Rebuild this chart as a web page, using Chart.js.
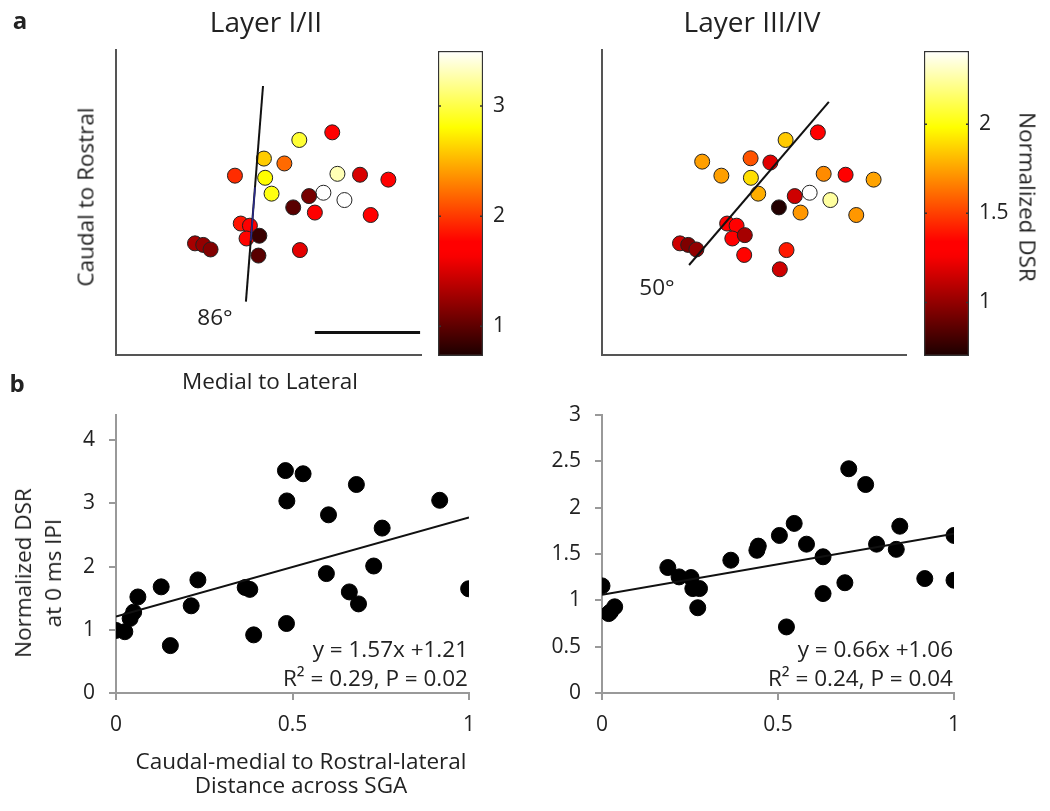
<!DOCTYPE html>
<html>
<head>
<meta charset="utf-8">
<script src="https://cdn.jsdelivr.net/npm/chart.js@4.4.0/dist/chart.umd.min.js"></script>
<style>
body { margin:0; background:#fff; width:1050px; height:811px; position:relative; overflow:hidden; font-family:"Open Sans", sans-serif; color:#222; }
canvas { position:absolute; }
.lbl { position:absolute; transform:translate(-50%,-50%); white-space:nowrap; font-size:22.5px; line-height:1.2; text-align:center; }
.rgt { transform:translate(-100%,-50%); }
.rotl { transform:translate(-50%,-50%) rotate(-90deg); }
.rotr { transform:translate(-50%,-50%) rotate(90deg); }
</style>
</head>
<body>
<canvas id="mapA" width="430" height="400" style="left:0;top:0"></canvas>
<canvas id="barA" width="90" height="400" style="left:430px;top:0"></canvas>
<canvas id="mapB" width="415" height="400" style="left:500px;top:0"></canvas>
<canvas id="barB" width="110" height="400" style="left:915px;top:0"></canvas>
<canvas id="fitA" width="490" height="360" style="left:0;top:395px"></canvas>
<canvas id="fitB" width="510" height="360" style="left:490px;top:395px"></canvas>

<div class="lbl" style="left:20px;top:20px;font-weight:bold;font-size:24px">a</div>
<div class="lbl" style="left:266px;top:22px;font-size:28px">Layer I/II</div>
<div class="lbl" style="left:752px;top:22px;font-size:28px">Layer III/IV</div>
<div class="lbl rotl" style="left:85px;top:197px">Caudal to Rostral</div>
<div class="lbl" style="left:270px;top:380px">Medial to Lateral</div>
<div class="lbl" style="left:215px;top:316px">86°</div>
<div class="lbl" style="left:657px;top:286px">50°</div>
<div class="lbl rotr" style="left:1028px;top:197px">Normalized DSR</div>

<div class="lbl" style="left:17px;top:383px;font-weight:bold;font-size:24px">b</div>
<div class="lbl rotl" style="left:38px;top:573px;line-height:30px">Normalized DSR<br>at 0 ms IPI</div>
<div class="lbl rgt" style="left:468px;top:648px">y = 1.57x +1.21</div>
<div class="lbl rgt" style="left:468px;top:677px">R² = 0.29, P = 0.02</div>
<div class="lbl rgt" style="left:953px;top:648px">y = 0.66x +1.06</div>
<div class="lbl rgt" style="left:953px;top:677px">R² = 0.24, P = 0.04</div>
<div class="lbl" style="left:301px;top:760px">Caudal-medial to Rostral-lateral</div>
<div class="lbl" style="left:301px;top:784px">Distance across SGA</div>

<script>
// panel a: cell positions (arbitrary 0-100 units) and normalized DSR
const l12X = [70.9, 60.1, 48.5, 55.2, 39.0, 48.9, 72.6, 80.0, 89.3, 51.0, 68.0, 74.9, 63.3, 58.1, 65.2, 83.5, 40.9, 43.9, 42.8, 47.0, 25.9, 28.6, 31.0, 60.3, 46.7];
const l12Y = [73.0, 70.5, 64.4, 62.8, 58.8, 58.1, 59.4, 59.1, 57.5, 52.9, 53.2, 50.8, 52.1, 48.4, 46.7, 45.9, 43.1, 42.4, 38.2, 39.1, 36.6, 36.1, 34.6, 34.4, 32.6];
const l12DSR = [1.7, 2.95, 2.6, 2.2, 1.95, 2.8, 3.3, 1.5, 1.7, 2.85, 3.5, 3.5, 1.1, 0.98, 1.72, 1.72, 1.85, 1.65, 1.78, 0.85, 1.3, 1.22, 1.15, 1.55, 0.98];
const l12AxisX = [48.2, 42.6];
const l12AxisY = [88.2, 17.5];
const l12BlueX = [45.6, 44.2];
const l12BlueY = [55.0, 37.5];
const l12Range = [0.73, 3.5];

const l34X = [70.9, 60.3, 32.9, 48.8, 55.3, 39.2, 48.9, 72.8, 80.0, 89.2, 51.3, 68.2, 75.0, 63.3, 58.1, 65.2, 83.5, 41.1, 44.2, 42.8, 46.9, 25.6, 28.3, 31.0, 60.6, 46.7, 58.4];
const l34Y = [73.0, 70.5, 63.4, 64.5, 63.1, 58.8, 58.1, 59.4, 59.1, 57.5, 52.9, 53.2, 50.8, 52.1, 48.4, 46.7, 45.9, 43.1, 42.4, 38.2, 39.3, 36.6, 36.1, 34.6, 34.4, 32.8, 28.1];
const l34DSR = [1.28, 1.85, 1.74, 1.55, 1.2, 1.74, 1.9, 1.69, 1.28, 1.75, 1.78, 2.41, 2.25, 1.15, 0.72, 1.72, 1.72, 1.3, 1.3, 1.3, 1.05, 1.15, 0.95, 1.0, 1.4, 1.35, 1.15];
const l34AxisX = [74.5, 28.6];
const l34AxisY = [83.0, 29.5];
const l34Range = [0.70, 2.41];

const scaleBarX = [65.2, 99.7];
const scaleBarY = [7.4, 7.4];

// panel b: distance across SGA vs normalized DSR
const distA = [0, 0.025, 0.04, 0.05, 0.062, 0.128, 0.154, 0.213, 0.232, 0.366, 0.379, 0.39, 0.48, 0.53, 0.484, 0.483, 0.602, 0.596, 0.681, 0.661, 0.687, 0.73, 0.754, 0.917, 0.999];
const dsrA  = [0.99, 0.97, 1.18, 1.28, 1.52, 1.68, 0.75, 1.38, 1.79, 1.67, 1.64, 0.92, 3.52, 3.47, 3.04, 1.10, 2.82, 1.89, 3.30, 1.60, 1.41, 2.01, 2.61, 3.05, 1.65];
const fitA = [1.57, 1.21];

const distB = [0, 0.019, 0.036, 0.024, 0.187, 0.219, 0.253, 0.258, 0.277, 0.272, 0.366, 0.44, 0.444, 0.504, 0.546, 0.581, 0.524, 0.628, 0.628, 0.69, 0.701, 0.749, 0.78, 0.836, 0.846, 0.917, 1.0, 1.0];
const dsrB  = [1.156, 0.857, 0.93, 0.875, 1.354, 1.253, 1.246, 1.127, 1.127, 0.92, 1.433, 1.54, 1.585, 1.70, 1.83, 1.606, 0.713, 1.47, 1.073, 1.19, 2.42, 2.25, 1.606, 1.55, 1.80, 1.235, 1.70, 1.217];
const fitB = [0.66, 1.06];

const FONT = { family: '"Open Sans", sans-serif', size: 21 };
const TXT = '#222';
const plainNum = v => String(+Number(v).toFixed(2));

// keep the plot area exactly where the layout padding puts it
function fixWidth(w) {
    return s => { s.width = w; s.paddingTop = 0; s.paddingBottom = 0; };
}
function fixHeight(h) {
    return s => { s.height = h; s.paddingLeft = 0; s.paddingRight = 0; };
}

function hot(t) {
    t = Math.max(0, Math.min(1, t));
    const r = Math.min(1, (t + 0.04) / 0.375);
    const g = Math.max(0, Math.min(1, (t - 0.375) / 0.375));
    const b = Math.max(0, Math.min(1, (t - 0.75) / 0.25));
    return 'rgb(' + Math.round(r * 255) + ',' + Math.round(g * 255) + ',' + Math.round(b * 255) + ')';
}

function pairs(xs, ys) {
    return xs.map((x, i) => ({ x: x, y: ys[i] }));
}

function mapChart(id, xs, ys, vals, range, axX, axY, extra, yWidth, padRight) {
    const colors = vals.map(v => hot((v - range[0]) / (range[1] - range[0])));
    const datasets = [
        { data: pairs(axX, axY), showLine: true, borderColor: '#111', borderWidth: 2, pointRadius: 0, order: 1 },
        { data: pairs(xs, ys), backgroundColor: colors, borderColor: '#222', borderWidth: 1, pointRadius: 7.5, order: 2 }
    ];
    extra.forEach(d => datasets.push(d));
    new Chart(document.getElementById(id), {
        type: 'scatter',
        data: { datasets: datasets },
        options: {
            responsive: false,
            animation: false,
            layout: { padding: { top: 50, right: padRight, left: 0, bottom: 0 } },
            plugins: { legend: { display: false }, tooltip: { enabled: false } },
            scales: {
                x: {
                    min: 0, max: 100,
                    ticks: { display: false },
                    grid: { display: false },
                    border: { display: true, color: '#555', width: 2 },
                    afterFit: fixHeight(45)
                },
                y: {
                    min: 0, max: 100,
                    ticks: { display: false },
                    grid: { display: false },
                    border: { display: true, color: '#555', width: 2 },
                    afterFit: fixWidth(yWidth)
                }
            }
        }
    });
}

mapChart('mapA', l12X, l12Y, l12DSR, l12Range, l12AxisX, l12AxisY, [
    { data: pairs(l12BlueX, l12BlueY), showLine: true, borderColor: '#2b2b8c', borderWidth: 1.5, pointRadius: 0, order: 0 },
    { data: pairs(scaleBarX, scaleBarY), showLine: true, borderColor: '#111', borderWidth: 3, pointRadius: 0, order: 0 }
], 116, 9);

mapChart('mapB', l34X, l34Y, l34DSR, l34Range, l34AxisX, l34AxisY, [], 102, 8);

// small inner tick marks on both edges of the colour bar
const barTicks = {
    id: 'barTicks',
    afterDatasetsDraw(chart) {
        const y = chart.scales.y;
        const a = chart.chartArea;
        const ctx = chart.ctx;
        ctx.save();
        ctx.strokeStyle = '#333';
        ctx.lineWidth = 1.5;
        y.ticks.forEach(t => {
            const py = y.getPixelForValue(t.value);
            ctx.beginPath();
            ctx.moveTo(a.left, py); ctx.lineTo(a.left + 3, py);
            ctx.moveTo(a.right - 3, py); ctx.lineTo(a.right, py);
            ctx.stroke();
        });
        ctx.restore();
    }
};

function colorBar(id, range, step, padLeft, yWidth) {
    new Chart(document.getElementById(id), {
        type: 'bar',
        data: {
            labels: [''],
            datasets: [{
                data: [range],
                backgroundColor: ctx => {
                    const chart = ctx.chart;
                    if (!chart.chartArea) return '#f00';
                    const y = chart.scales.y;
                    const g = chart.ctx.createLinearGradient(0, y.getPixelForValue(range[0]), 0, y.getPixelForValue(range[1]));
                    for (let i = 0; i <= 40; i++) g.addColorStop(i / 40, hot(i / 40));
                    return g;
                },
                borderColor: '#333',
                borderWidth: 1.5,
                borderSkipped: false,
                barPercentage: 1,
                categoryPercentage: 1
            }]
        },
        options: {
            responsive: false,
            animation: false,
            layout: { padding: { top: 51, left: padLeft, right: 0, bottom: 44 } },
            plugins: { legend: { display: false }, tooltip: { enabled: false } },
            scales: {
                x: { display: false },
                y: {
                    position: 'right',
                    min: range[0], max: range[1],
                    ticks: { stepSize: step, includeBounds: false, padding: 2, font: FONT, color: TXT, callback: plainNum },
                    grid: { display: false },
                    border: { display: false },
                    afterFit: fixWidth(yWidth)
                }
            }
        },
        plugins: [barTicks]
    });
}

colorBar('barA', l12Range, 1, 8, 37);
colorBar('barB', l34Range, 0.5, 9, 56);

function fitChart(id, xs, ys, fit, yMax, yStep, yWidth, padRight) {
    new Chart(document.getElementById(id), {
        type: 'scatter',
        data: {
            datasets: [
                { data: [{ x: 0, y: fit[1] }, { x: 1, y: fit[0] + fit[1] }], showLine: true, borderColor: '#111', borderWidth: 2, pointRadius: 0, order: 1 },
                { data: pairs(xs, ys), backgroundColor: '#000', borderColor: '#000', pointRadius: 8, order: 2 }
            ]
        },
        options: {
            responsive: false,
            animation: false,
            layout: { padding: { top: 20, right: padRight, left: 0, bottom: 0 } },
            plugins: { legend: { display: false }, tooltip: { enabled: false } },
            scales: {
                x: {
                    min: 0, max: 1,
                    ticks: { stepSize: 0.5, padding: 12, font: FONT, color: TXT, maxRotation: 0, callback: plainNum },
                    grid: { drawOnChartArea: false, tickLength: 7, color: '#999', lineWidth: 2 },
                    border: { color: '#999', width: 2 },
                    afterFit: fixHeight(62)
                },
                y: {
                    min: 0, max: yMax,
                    ticks: { stepSize: yStep, includeBounds: false, padding: 14, font: FONT, color: TXT, callback: plainNum },
                    grid: { drawOnChartArea: false, tickLength: 7, color: '#999', lineWidth: 2 },
                    border: { color: '#999', width: 2 },
                    afterFit: fixWidth(yWidth)
                }
            }
        }
    });
}

fitChart('fitA', distA, dsrA, fitA, 4.4, 1, 116, 21);
fitChart('fitB', distB, dsrB, fitB, 3, 0.5, 112, 46);
</script>
</body>
</html>
